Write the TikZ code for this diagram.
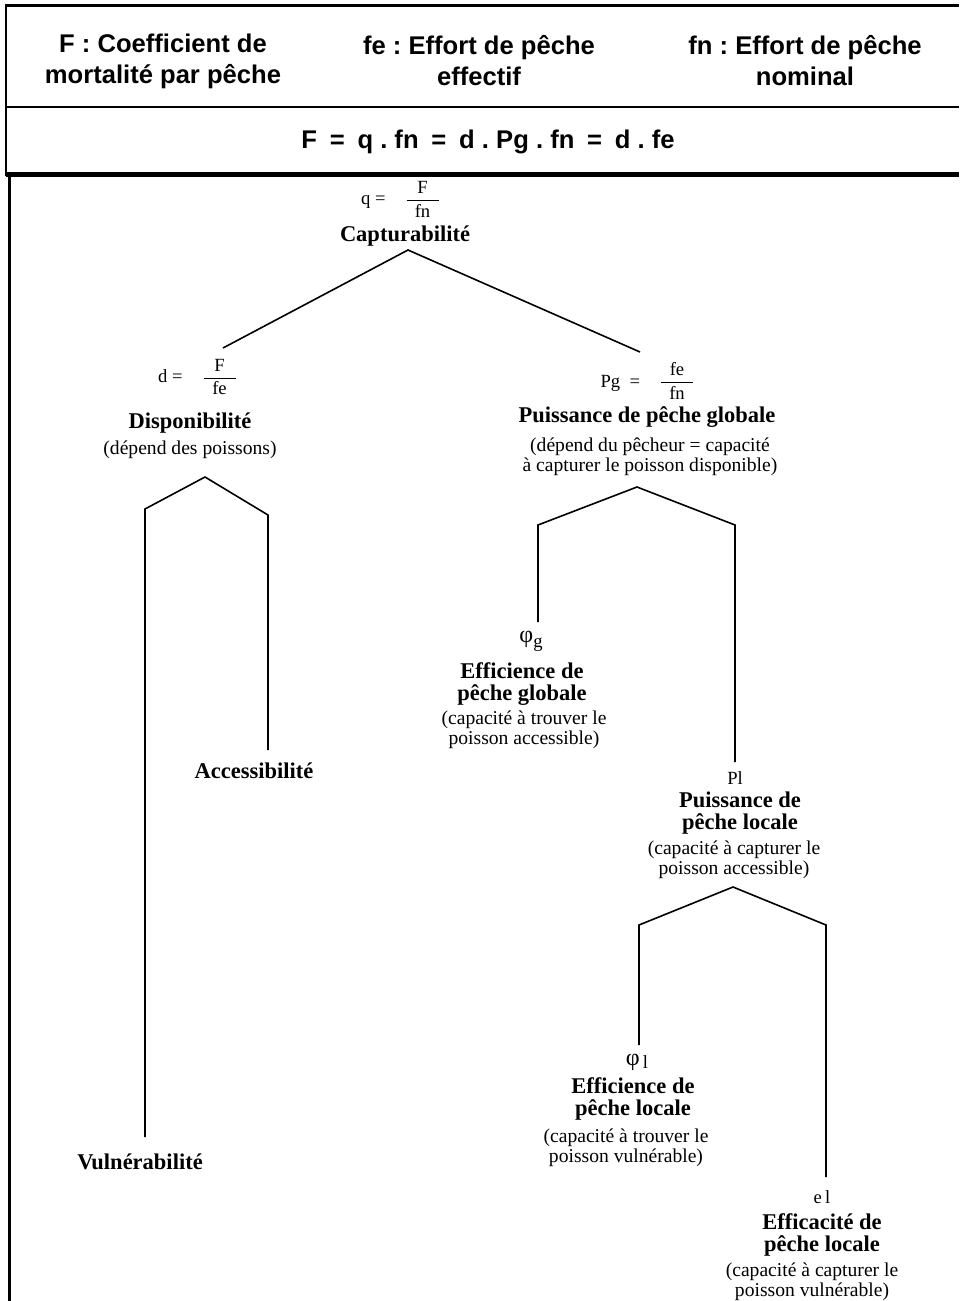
\documentclass[tikz,border=0pt]{standalone}
\usepackage{fontspec}
\setmainfont{Liberation Serif}
\newfontfamily\hdrfont{Liberation Sans}
\newcommand\rapport[2]{$\displaystyle\frac{\makebox[16pt]{#1}}{\makebox[16pt]{#2}}$}
\frenchspacing

\begin{document}
\begin{tikzpicture}[x=0.5pt,y=-0.5pt,
  hdr/.style={font=\hdrfont\bfseries\fontsize{12.8}{15.5}\selectfont,align=center,inner sep=0pt},
  ttl/.style={font=\bfseries\fontsize{11.25}{11}\selectfont,align=center,inner sep=0pt},
  nte/.style={font=\fontsize{9.8}{8.75}\selectfont,align=center,inner sep=0pt},
  sym/.style={font=\fontsize{9.3}{10}\selectfont,inner sep=0pt},
  branch/.style={line width=0.8pt}]
\useasboundingbox (0,0) rectangle (959,1301);
% cadre
\draw[line width=1.5pt] (5,5) -- (959,5);
\draw[line width=1.25pt] (6,5) -- (6,176);
\draw[line width=1pt] (6,107) -- (959,107);
\draw[line width=2.5pt] (6,174) -- (959,174);
\draw[line width=1.5pt] (9,174) -- (9,1301);

\path (163,61) node[hdr] (hF) {F : Coefficient de\\mortalité par pêche};
\path (479,61) node[hdr] (hfe) {fe : Effort de pêche\\effectif};
\path (805,61) node[hdr] (hfn) {fn : Effort de pêche\\nominal};
\path (488,142) node[hdr] (rel) {F\enspace=\enspace q . fn\enspace=\enspace d . Pg . fn\enspace=\enspace d . fe};

\path (401,199) node[sym] (qcap) {q =\quad\rapport{F}{fn}};
\path (405,236) node[ttl] (capt) {Capturabilité};

\path (198,377) node[sym] (qdisp) {d =\quad\rapport{F}{fe}};
\path (190,423) node[ttl] (disp) {Disponibilité};
\path (190,450) node[nte] (dispn) {(dépend des poissons)};

\path (648,381) node[sym] (qpg) {Pg\enspace=\quad\rapport{fe}{fn}};
\path (647,417) node[ttl] (pg) {Puissance de pêche globale};
\path (650,457) node[nte] (pgn) {(dépend du pêcheur = capacité\\ à capturer le poisson disponible)};

\path (254,771) node[ttl] (acc) {Accessibilité};
\path (140,1162) node[ttl] (vuln) {Vulnérabilité};

\path (531,641) node[sym] (qeg) {{\fontsize{12}{12}\selectfont φ}\raisebox{-2.5pt}{g}};
\path (522,684) node[ttl] (effg) {Efficience de\\pêche globale};
\path (524,730) node[nte] (effgn) {(capacité à trouver le\\poisson accessible)};

\path (735,778) node[sym] (qpl) {Pl};
\path (740,813) node[ttl] (pl) {Puissance de\\pêche locale};
\path (734,860) node[nte] (pln) {(capacité à capturer le\\poisson accessible)};

\path (637,1062) node[sym] (qel) {{\fontsize{12}{12}\selectfont φ}\,\raisebox{-1.5pt}{l}};
\path (633,1099) node[ttl] (effl) {Efficience de\\pêche locale};
\path (626,1148) node[nte] (effln) {(capacité à trouver le\\ poisson vulnérable)};

\path (822,1197) node[sym] (qec) {e\,l};
\path (822,1235) node[ttl] (effc) {Efficacité de\\pêche locale};
\path (812,1282) node[nte] (effcn) {(capacité à capturer le\\poisson vulnérable)};

\coordinate (capJ) at (408,250);
\coordinate (dispA) at (223,348);
\coordinate (pgA) at (640,352);
\coordinate (dispJ) at (205,477);
\coordinate (dispL) at (145,509);
\coordinate (dispR) at (268,515);
\coordinate (vulnA) at (145,1137);
\coordinate (accA) at (268,750);
\coordinate (pgJ) at (637,487);
\coordinate (pgL) at (538,525);
\coordinate (pgR) at (735,525);
\coordinate (effgA) at (538,622);
\coordinate (plA) at (735,762);
\coordinate (plJ) at (733,887);
\coordinate (plL) at (639,925);
\coordinate (plR) at (826,925);
\coordinate (efflA) at (639,1045);
\coordinate (effcA) at (826,1177);

\draw[branch] (dispA) -- (capJ) -- (pgA);
\draw[branch] (vulnA) -- (dispL) -- (dispJ) -- (dispR) -- (accA);
\draw[branch] (effgA) -- (pgL) -- (pgJ) -- (pgR) -- (plA);
\draw[branch] (efflA) -- (plL) -- (plJ) -- (plR) -- (effcA);
\end{tikzpicture}
\end{document}
